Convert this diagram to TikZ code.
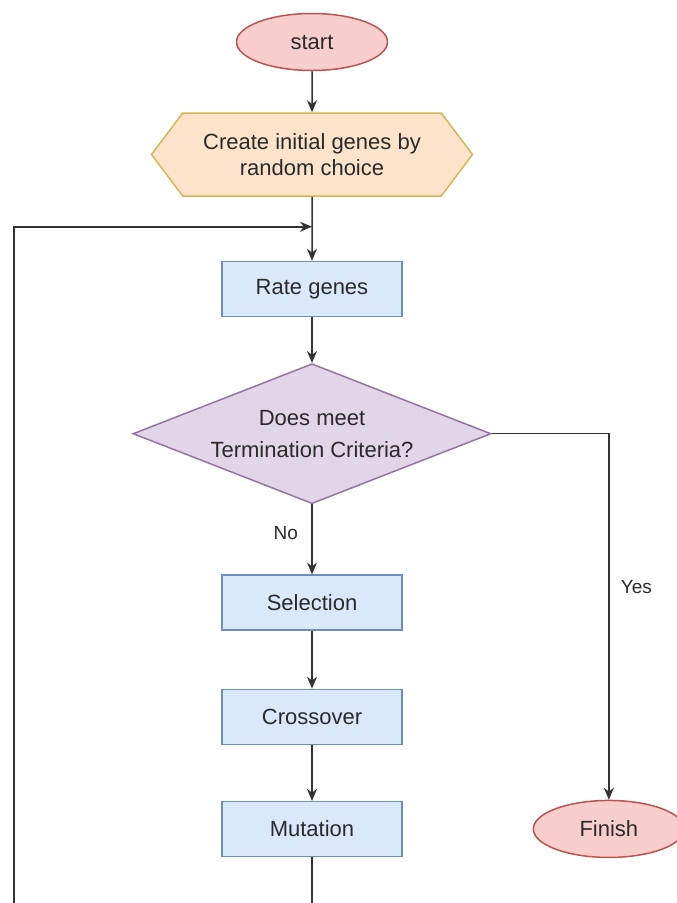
\documentclass[tikz,border=0pt]{standalone}
\usepackage{fontspec}
\setmainfont{Liberation Sans}
\usetikzlibrary{positioning,arrows.meta,shapes.geometric,shapes.symbols}
\definecolor{termfill}{HTML}{F8CECC}
\definecolor{termdraw}{HTML}{B85450}
\definecolor{initfill}{HTML}{FCE3CA}
\definecolor{initdraw}{HTML}{D6B656}
\definecolor{procfill}{HTML}{DAE8FC}
\definecolor{procdraw}{HTML}{6C8EBF}
\definecolor{decfill}{HTML}{E1D5E7}
\definecolor{decdraw}{HTML}{9673A6}
\definecolor{txtgray}{HTML}{2A2A2A}
\definecolor{linegray}{HTML}{333333}

\begin{document}
\begin{tikzpicture}[x=1pt,y=1pt,>={Stealth[length=12pt,width=10pt]},
  every node/.style={font=\fontsize{22}{26}\selectfont,text=txtgray},
  terminal/.style={ellipse,draw=termdraw,fill=termfill,line width=1.5pt,minimum width=151pt,minimum height=57pt},
  initbox/.style={signal,signal to=west and east,signal pointer angle=106,draw=initdraw,fill=initfill,line width=1.5pt,minimum width=321pt,minimum height=83pt,align=center},
  process/.style={rectangle,draw=procdraw,fill=procfill,line width=1.2pt,minimum width=180pt,minimum height=55pt},
  decision/.style={diamond,aspect=2.6,draw=decdraw,fill=decfill,line width=1.5pt,minimum width=358pt,minimum height=140pt,inner sep=0pt,align=center},
  flow/.style={draw=linegray,line width=1.5pt},
  branch/.style={font=\fontsize{19}{22}\selectfont}]
  \useasboundingbox (0,0) rectangle (677,-903);
  \node[terminal] (start) at (312,-42) {start};
  \node[initbox,below=41pt of start] (init) {Create initial genes by\\random choice};
  \node[process,below=64pt of init] (rate) {Rate genes};
  \node[decision,below=46pt of rate] (check) {Does meet\\[6pt]Termination Criteria?};
  \node[process,below=70pt of check] (select) {Selection};
  \node[process,below=58pt of select] (cross) {Crossover};
  \node[process,below=56pt of cross] (mutate) {Mutation};
  \node[terminal,right=130pt of mutate] (finish) {Finish};
  % loop back from the bottom edge
  \coordinate (entry) at ([yshift=-30pt]init.south);
  \coordinate (loopend) at (14,-903);
  \coordinate (mutend) at (mutate.south |- loopend);
  \draw[flow,->] (start) -- (init);
  \draw[flow,->] (init) -- (rate);
  \draw[flow,->] (rate) -- (check);
  \draw[flow,->] (check) -- node[branch,left=10pt,pos=0.41] {No} (select);
  \draw[flow,->] (select) -- (cross);
  \draw[flow,->] (cross) -- (mutate);
  \draw[flow,->] (check.east) -| node[branch,right=8pt,pos=0.71] {Yes} (finish);
  \draw[flow] (mutate) -- (mutend);
  \draw[flow,->] (loopend) |- (entry);
\end{tikzpicture}
\end{document}
